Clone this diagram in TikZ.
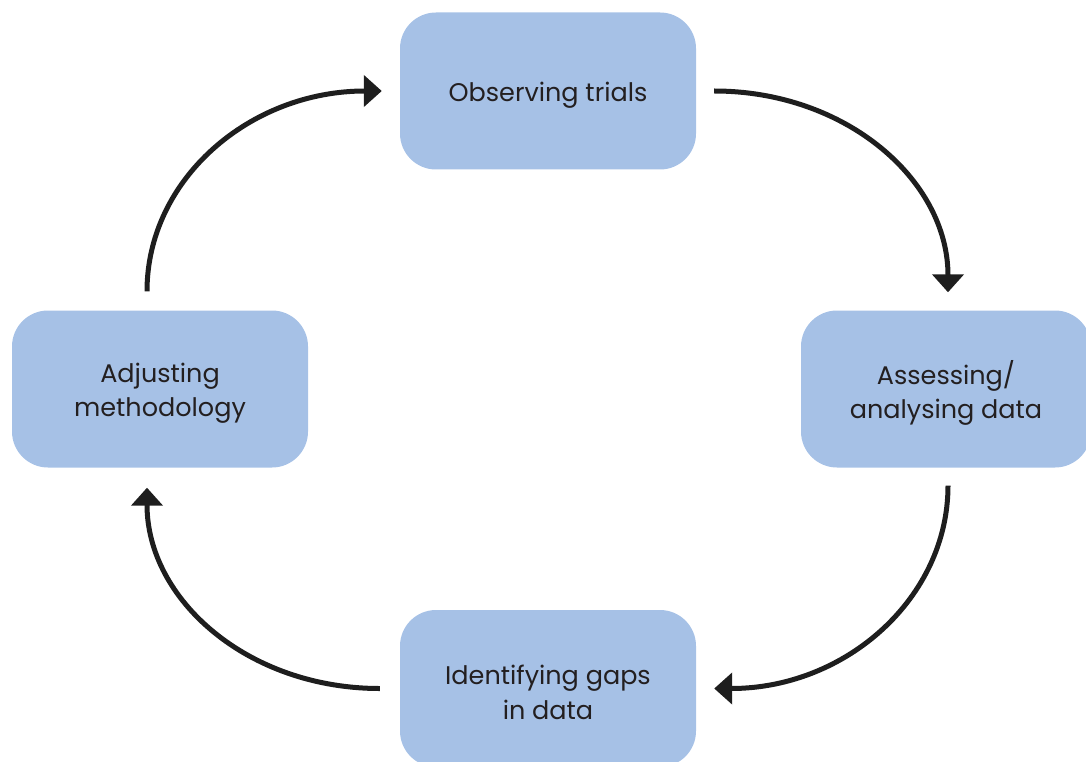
\documentclass[tikz,border=0pt]{standalone}
\usepackage{fontspec}
\setmainfont{Poppins}
\usetikzlibrary{arrows.meta}
\definecolor{boxblue}{RGB}{166,193,230}
\definecolor{ink}{RGB}{30,30,30}
\definecolor{txt}{RGB}{35,31,32}
\tikzset{
  stagebox/.style={draw=none, fill=boxblue, rounded corners=36pt, minimum width=296pt,
    minimum height=157pt, inner sep=0pt},
  stagetext/.style={inner sep=0pt, align=center, text=txt,
    font=\fontsize{25.5}{34.5}\selectfont},
  cyclearrow/.style={draw=ink, line width=5pt, -{Triangle[width=31pt,length=18pt]}}
}
\begin{document}
\begin{tikzpicture}[x=1pt,y=-1pt]
\useasboundingbox (0,0) rectangle (1086,762);
\node[stagebox] (top) at (548,91) {};
\node[stagebox, minimum width=290pt] (right) at (946,389) {};
\node[stagebox] (left) at (160,389) {};
\node[stagebox] (bottom) at (548,688.5) {};
\node[stagetext] (toptext) at ([yshift=-4pt]top.center) {Observing trials};
\node[stagetext] (righttext) at ([yshift=-4pt]right.center) {Assessing/\\analysing data};
\node[stagetext] (lefttext) at ([yshift=-4pt]left.center) {Adjusting\\methodology};
\node[stagetext] (bottomtext) at ([yshift=-4pt]bottom.center) {Identifying gaps\\in data};
\draw[cyclearrow] ([xshift=-13pt,yshift=19pt]left.north) .. controls +(0,-112) and +(-132,0) .. ([xshift=-18pt]top.west);
\draw[cyclearrow] ([xshift=18pt]top.east) .. controls +(132,0) and +(0,-112) .. ([xshift=2pt,yshift=18pt]right.north);
\draw[cyclearrow] ([xshift=2pt,yshift=-18pt]right.south) .. controls +(0,112) and +(132,0) .. ([xshift=18pt]bottom.east);
\draw[cyclearrow] ([xshift=-20pt]bottom.west) .. controls +(-132,0) and +(0,112) .. ([xshift=-13pt,yshift=-20pt]left.south);
\end{tikzpicture}
\end{document}
